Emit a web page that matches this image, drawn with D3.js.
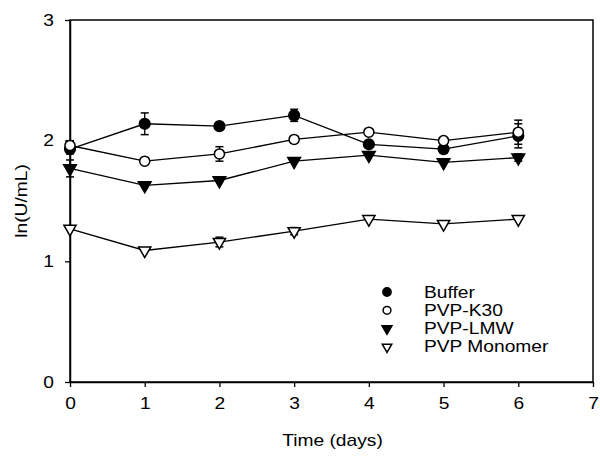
<!DOCTYPE html>
<html>
<head>
<meta charset="utf-8">
<script src="https://cdn.jsdelivr.net/npm/d3@7"></script>
<style>
  body { margin: 0; background: #fff; }
  text { font-family: "Liberation Sans", Arial, sans-serif; fill: #000; }
</style>
</head>
<body>
<div id="chart"></div>
<script>
// data
const days = [0, 1, 2, 3, 4, 5, 6];
const buffer = [1.93, 2.14, 2.12, 2.21, 1.97, 1.93, 2.04];
const bufferErr = [0.04, 0.09, 0, 0.05, 0, 0.03, 0.1];
const k30 = [1.96, 1.83, 1.89, 2.01, 2.07, 2.00, 2.07];
const k30Err = [0.04, 0, 0.06, 0.03, 0, 0, 0.1];
const lmw = [1.77, 1.63, 1.67, 1.83, 1.88, 1.82, 1.86];
const lmwErr = [0.07, 0, 0, 0, 0, 0, 0.03];
const monomer = [1.27, 1.09, 1.16, 1.25, 1.35, 1.31, 1.35];
const monomerErr = [0, 0, 0.04, 0.03, 0, 0, 0];
const seriesNames = ["Buffer", "PVP-K30", "PVP-LMW", "PVP Monomer"];
const xTicks = [0, 1, 2, 3, 4, 5, 6, 7];
const yTicks = [0, 1, 2, 3];

const width = 600, height = 456;
const margin = {top: 20, right: 7, bottom: 74, left: 70};
const w = width - margin.left - margin.right;
const h = height - margin.top - margin.bottom;
const sx = 1.2; // the original lettering is a bit wide

// widen a text around its own anchor point
function stretch(sel) {
    sel.each(function() {
        const t = d3.select(this);
        const ax = +t.attr("x") || 0, ay = +t.attr("y") || 0;
        t.attr("transform", `translate(${ax},${ay}) scale(${sx},1) translate(${-ax},${-ay})`);
    });
}

const svg = d3.select("#chart")
    .append("svg")
        .attr("width", width)
        .attr("height", height);
const g = svg.append("g")
    .attr("transform", "translate(" + margin.left + "," + margin.top + ")");

const x = d3.scaleLinear().domain([0, 7]).range([0, w]);
const y = d3.scaleLinear().domain([0, 3]).range([h, 0]);

// frame
g.append("rect")
    .attr("width", w).attr("height", h)
    .attr("fill", "none").attr("stroke", "#000").attr("stroke-width", 1.5);

const xAxis = g.append("g")
    .attr("transform", "translate(0," + h + ")")
    .call(d3.axisBottom(x).tickValues(xTicks).tickFormat(d3.format("d")).tickSize(5).tickSizeOuter(0));
const yAxis = g.append("g")
    .call(d3.axisLeft(y).tickValues(yTicks).tickFormat(d3.format("d")).tickSize(5).tickSizeOuter(0));
[xAxis, yAxis].forEach(a => {
    a.select(".domain").attr("stroke-width", 1.5);
    a.selectAll(".tick line").attr("stroke-width", 1.3);
    a.selectAll("text").style("font-size", "16px").style("font-family", "Liberation Sans, Arial, sans-serif");
});
xAxis.selectAll("text").attr("dy", "1.2em").call(stretch);
yAxis.selectAll("text").attr("x", -16).call(stretch);

svg.append("text")
    .attr("x", margin.left + w / 2 + 1)
    .attr("y", 446)
    .attr("text-anchor", "middle")
    .style("font-size", "16px")
    .text("Time (days)")
    .call(stretch);
svg.append("text")
    .attr("transform", "translate(27," + (margin.top + h / 2) + ") rotate(-90) scale(" + sx + ",1)")
    .attr("text-anchor", "middle")
    .style("font-size", "16px")
    .text("ln(U/mL)");

const series = [
    {name: seriesNames[0], vals: buffer, err: bufferErr, shape: d3.symbolCircle, fill: "#000", size: 90},
    {name: seriesNames[1], vals: k30, err: k30Err, shape: d3.symbolCircle, fill: "#fff", size: 80},
    {name: seriesNames[2], vals: lmw, err: lmwErr, shape: d3.symbolTriangle, fill: "#000", size: 70},
    {name: seriesNames[3], vals: monomer, err: monomerErr, shape: d3.symbolTriangle, fill: "#fff", size: 65}
];

const line = d3.line()
    .x((d, i) => x(days[i]))
    .y(d => y(d));

series.forEach(s => {
    g.append("path")
        .datum(s.vals)
        .attr("d", line)
        .attr("fill", "none")
        .attr("stroke", "#000")
        .attr("stroke-width", 1.3);
});

// error bars
series.forEach(s => {
    const eb = g.append("g");
    days.forEach((d, i) => {
        if (!s.err[i]) return;
        const cx = x(d), y0 = y(s.vals[i] - s.err[i]), y1 = y(s.vals[i] + s.err[i]);
        eb.append("line").attr("x1", cx).attr("x2", cx).attr("y1", y0).attr("y2", y1)
            .attr("stroke", "#000").attr("stroke-width", 1.3);
        [y0, y1].forEach(yy => {
            eb.append("line").attr("x1", cx - 4).attr("x2", cx + 4).attr("y1", yy).attr("y2", yy)
                .attr("stroke", "#000").attr("stroke-width", 1.5);
        });
    });
});

// markers
series.forEach(s => {
    const flip = s.shape === d3.symbolTriangle ? " rotate(180)" : "";
    g.selectAll(null)
        .data(s.vals)
        .enter()
        .append("path")
            .attr("d", d3.symbol().type(s.shape).size(s.size))
            .attr("transform", (d, i) => "translate(" + x(days[i]) + "," + y(d) + ")" + flip)
            .attr("fill", s.fill)
            .attr("stroke", "#000")
            .attr("stroke-width", 1.5);
});

// legend
const legend = svg.append("g").attr("transform", "translate(387,292)");
series.forEach((s, i) => {
    const flip = s.shape === d3.symbolTriangle ? " rotate(180)" : "";
    legend.append("path")
        .attr("d", d3.symbol().type(s.shape).size(s.size * 0.6))
        .attr("transform", "translate(0," + (i * 18.3) + ")" + flip)
        .attr("fill", s.fill)
        .attr("stroke", "#000")
        .attr("stroke-width", 1.5);
    legend.append("text")
        .attr("x", 37)
        .attr("y", i * 18.3)
        .attr("dy", "0.35em")
        .style("font-size", "16px")
        .text(s.name)
        .call(stretch);
});
</script>
</body>
</html>
